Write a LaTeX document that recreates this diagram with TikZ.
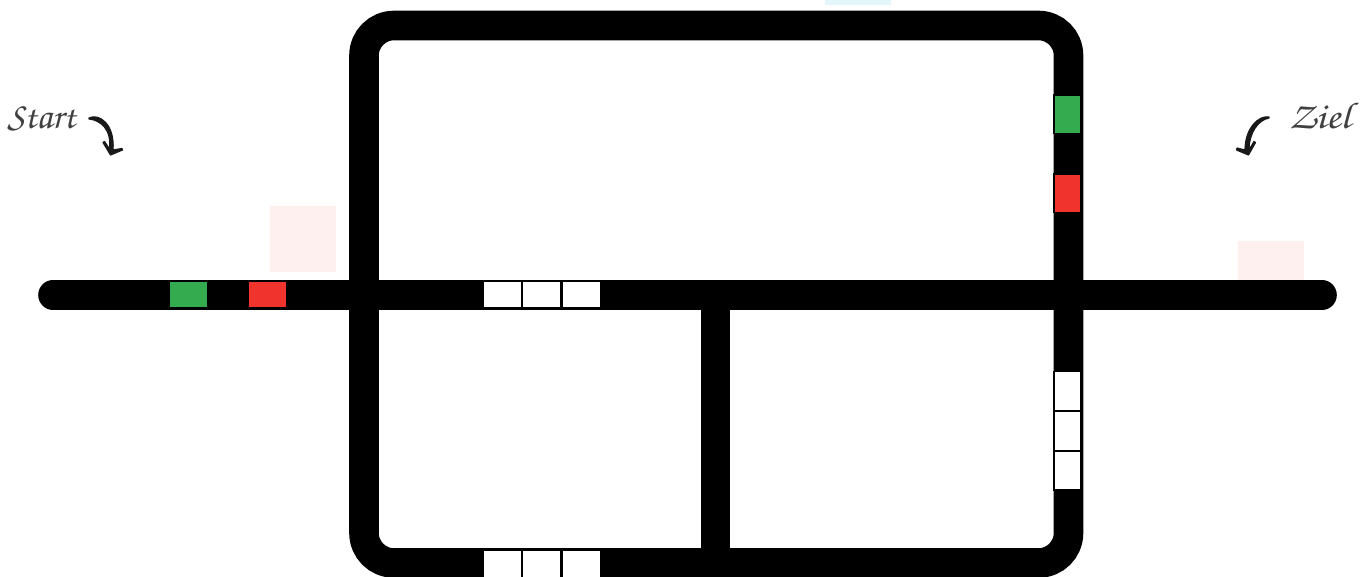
\documentclass[tikz,border=0pt]{standalone}
\usetikzlibrary{positioning}
\tikzset{
  road/.style={line width=22.2pt,black},
  cell/.style={draw=black,line width=1.1pt,inner sep=0pt,minimum width=#1},
  hcell/.style={cell=28.9pt,minimum height=20.2pt,fill=white},
  vcell/.style={cell=20.2pt,minimum height=28.9pt,fill=white},
  green/.style={fill=cellgreen},
  red/.style={fill=cellred},
  tint/.style={draw=none,inner sep=0pt,minimum width=49.5pt,minimum height=49.5pt},
  script/.style={inner sep=0pt,font=\fontencoding{T1}\fontfamily{pzc}\fontseries{m}\fontshape{it}\fontsize{28pt}{28pt}\selectfont,text=black!75},
  swoosh/.style={fill=black!90,draw=black!90,line width=0.9pt,line join=round}
}
\definecolor{cellgreen}{HTML}{34AB4F}
\definecolor{cellred}{HTML}{F1332D}
\definecolor{pinktint}{HTML}{FEF0EE}
\definecolor{cyantint}{HTML}{E3F6FA}
\begin{document}
\begin{tikzpicture}[x=0.75pt,y=-0.75pt]
\useasboundingbox (0,0) rectangle (1366,577);
\fill[white] (0,0) rectangle (1366,577);
% tints
\node[tint,fill=pinktint] (pinkA) at (303,239) {};
\node[tint,fill=pinktint] (pinkB) at (1271,274) {};
\node[tint,fill=cyantint] (cyanA) at (858,-28) {};
% roads
\begin{scope}
\clip (0,0) rectangle (1366,577);
\coordinate (roadL) at (53,295);
\coordinate (roadR) at (1322,295);
\coordinate (midT) at (715.5,295);
\coordinate (midB) at (715.5,563);
\draw[road,rounded corners=22.5pt] (364,25.5) rectangle (1068.5,563);
\draw[road,line cap=round] (roadL) -- (roadR);
\draw[road] (midT) -- (midB);
\end{scope}
% signals on the start branch
\node[hcell,green] (g1) at (188.5,294.7) {};
\node[hcell,red] (r1) at (267.5,294.7) {};
% signals on the right side
\node[vcell,green] (g2) at (1067.6,114.5) {};
\node[vcell,red] (r2) at (1067.6,193.5) {};
% white cells, middle road
\node[hcell] (a1) at (502.5,294.7) {};
\node[hcell] (a2) at (541.7,294.7) {};
\node[hcell] (a3) at (581.5,294.7) {};
% white cells, bottom road
\node[hcell] (b1) at (502.5,564) {};
\node[hcell] (b2) at (541.7,564) {};
\node[hcell] (b3) at (581.5,564) {};
% white cells, right road
\node[vcell] (c1) at (1067.6,391) {};
\node[vcell] (c2) at (1067.6,431) {};
\node[vcell] (c3) at (1067.6,470.5) {};
% labels
\node[script,anchor=base west] (start) at (7,129) {Start};
\node[script,anchor=base east] (ziel) at (1351,129) {\scalebox{1.15}[1]{Ziel}};
% hand-drawn arrows
\fill[swoosh] (89,118) .. controls (99,113) and (115,124) .. (113,150)
  -- (122,148.5) -- (122.5,150) -- (110.5,155) -- (103,142.5) -- (104.5,141.5) -- (109.5,149)
  .. controls (112,129) and (100,120) .. (89,119) -- cycle;
\fill[swoosh] (1269,117) .. controls (1259,115) and (1245,128) .. (1245,150)
  -- (1237,148) -- (1236.5,150) -- (1248.5,155) -- (1255.5,142.5) -- (1254,141.5) -- (1249,150)
  .. controls (1249,133) and (1258,120) .. (1269,118) -- cycle;
\end{tikzpicture}
\end{document}
